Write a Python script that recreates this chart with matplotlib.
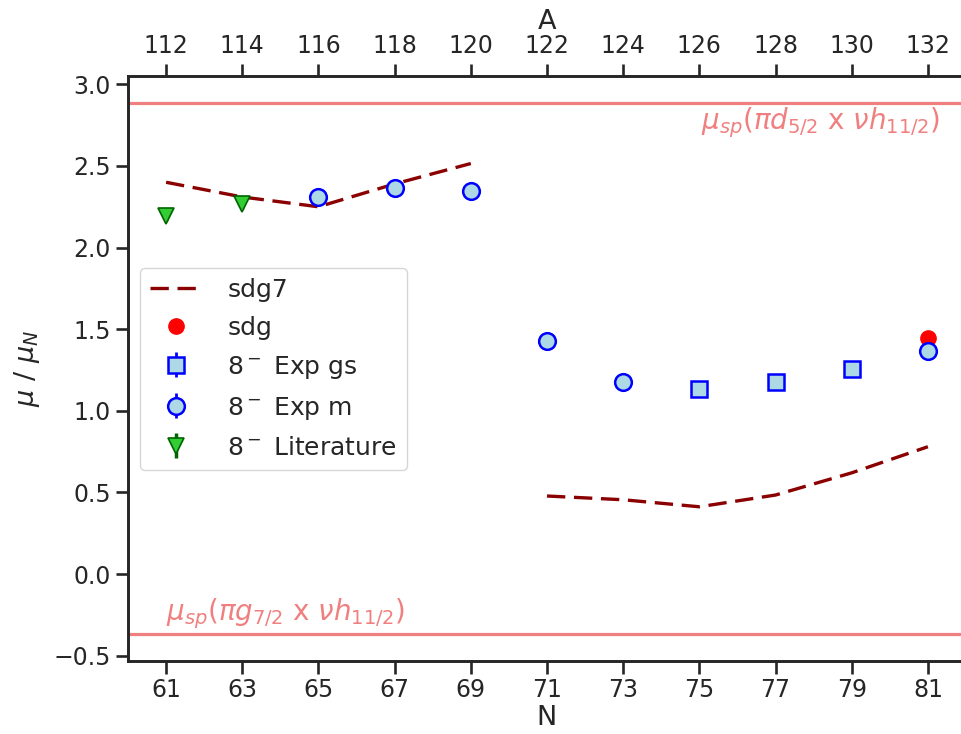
import numpy as np
import matplotlib
matplotlib.use("Agg")
import matplotlib.pyplot as plt

# ---- data ----
N_sdg7 = [61, 63, 65, 67, 69, np.nan, 71, 73, 75, 77, 79, 81]
mu_sdg7 = [2.40, 2.31, 2.25, 2.39, 2.515, np.nan, 0.478, 0.455, 0.412, 0.484, 0.62, 0.78]

N_sdg = [81]
mu_sdg = [1.444]

N_gs = [75, 77, 79]
mu_gs = [1.132, 1.176, 1.254]
err_gs = [0.02, 0.02, 0.02]

N_m = [65, 67, 69, 71, 73, 81]
mu_m = [2.312, 2.365, 2.345, 1.428, 1.176, 1.366]
err_m = [0.02, 0.02, 0.02, 0.02, 0.02, 0.02]

N_lit = [61, 63]
mu_lit = [2.195, 2.267]
err_lit = [0.03, 0.03]

mu_sp_top = 2.888
mu_sp_bot = -0.368
label_top = r"$\mu_{sp}(\pi d_{5/2}$ x $\nu h_{11/2})$"
label_bot = r"$\mu_{sp}(\pi g_{7/2}$ x $\nu h_{11/2})$"

xticks_N = [61, 63, 65, 67, 69, 71, 73, 75, 77, 79, 81]
xticks_A = [112, 114, 116, 118, 120, 122, 124, 126, 128, 130, 132]
A_offset = 51
yticks = [-0.5, 0.0, 0.5, 1.0, 1.5, 2.0, 2.5, 3.0]

# ---- style ----
dark = "#262626"
plt.rcParams.update({
    "font.family": ["DejaVu Sans"],
    "axes.edgecolor": dark,
    "axes.linewidth": 1.9,
    "xtick.color": dark,
    "ytick.color": dark,
    "text.color": dark,
    "axes.labelcolor": dark,
    "xtick.major.size": 9,
    "ytick.major.size": 9,
    "xtick.major.width": 1.9,
    "ytick.major.width": 1.9,
    "xtick.labelsize": 17,
    "ytick.labelsize": 17,
    "axes.labelsize": 19.5,
    "legend.fontsize": 18,
})

fig = plt.figure(figsize=(9.62, 7.34), dpi=100)
ax = fig.add_axes([128 / 962, 1 - 660.7 / 734, (966 - 128) / 962, (660.7 - 75.7) / 734])

ax.axhline(mu_sp_top, color="lightcoral", lw=2.3, zorder=1)
ax.axhline(mu_sp_bot, color="lightcoral", lw=2.3, zorder=1)

l_sdg7, = ax.plot(N_sdg7, mu_sdg7, color="darkred", lw=2.4, linestyle=(0, (5.5, 2.6)),
                  label="sdg7", zorder=2)
l_sdg, = ax.plot(N_sdg, mu_sdg, "o", color="red", markersize=11, linestyle="none",
                 label="sdg", zorder=3)
e_gs = ax.errorbar(N_gs, mu_gs, yerr=err_gs, fmt="s", color="blue", ecolor="blue",
                   markerfacecolor="lightblue", markeredgecolor="blue",
                   markersize=11, markeredgewidth=1.8, elinewidth=2, capsize=0,
                   label=r"8$^-$ Exp gs", zorder=4)
e_m = ax.errorbar(N_m, mu_m, yerr=err_m, fmt="o", color="blue", ecolor="blue",
                  markerfacecolor="lightblue", markeredgecolor="blue",
                  markersize=12, markeredgewidth=1.8, elinewidth=2, capsize=0,
                  label=r"8$^-$ Exp m", zorder=4)
e_lit = ax.errorbar(N_lit, mu_lit, yerr=err_lit, fmt="v", color="darkgreen", ecolor="darkgreen",
                    markerfacecolor="limegreen", markeredgecolor="darkgreen",
                    markersize=12, markeredgewidth=1.2, elinewidth=2.5, capsize=0,
                    label=r"8$^-$ Literature", zorder=4)

ax.set_xlim(60, 82)
ax.set_ylim(-0.531, 3.053)
ax.set_xticks(xticks_N)
ax.set_yticks(yticks)
ax.set_yticklabels([f"{v:.1f}".replace("-", "\u2212") for v in yticks])
ax.set_xlabel("N", labelpad=2)
ax.set_ylabel(r"$\mu$ / $\mu_N$", labelpad=8)

ax.text(0.9685, mu_sp_top - 0.02, label_top, transform=ax.get_yaxis_transform(),
        ha="right", va="top", color="lightcoral", fontsize=20)
ax.text(0.045, mu_sp_bot + 0.02, label_bot, transform=ax.get_yaxis_transform(),
        ha="left", va="bottom", color="lightcoral", fontsize=20)

ax.spines["right"].set_visible(False)

ax2 = ax.twiny()
ax2.set_xlim(60 + A_offset, 82 + A_offset)
ax2.set_xticks(xticks_A)
ax2.set_xlabel("A", labelpad=4)
ax2.spines["right"].set_visible(False)

ax.legend(handles=[l_sdg7, l_sdg, e_gs, e_m, e_lit], loc="upper left",
          bbox_to_anchor=(0.014, 0.672), borderaxespad=0, handlelength=2.1,
          handletextpad=1.0, labelspacing=0.56, frameon=True, fancybox=True,
          edgecolor="#cccccc", framealpha=0.8)

fig.savefig("out.png", dpi=100)
